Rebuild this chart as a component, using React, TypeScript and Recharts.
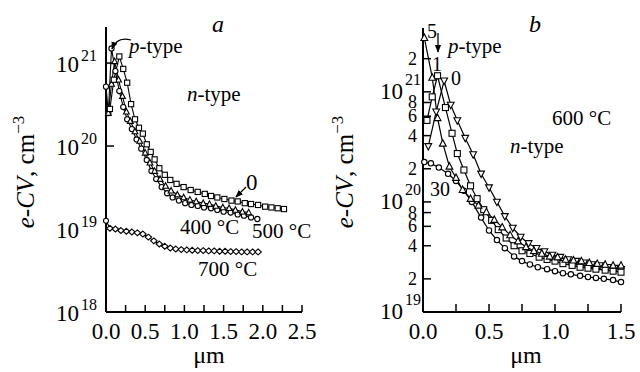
import React from 'react';
import { Line, LineChart, XAxis, YAxis } from 'recharts';

const SERIF = "'Liberation Serif', 'DejaVu Serif', 'Times New Roman', serif";

// ---- panel a: depth (μm) and e-CV concentration (cm^-3)
const aDepth0 = [0.05, 0.1, 0.17, 0.22, 0.27, 0.32, 0.37, 0.42, 0.47, 0.52, 0.57, 0.62, 0.68, 0.75, 0.82, 0.9, 0.99, 1.08, 1.17, 1.26, 1.34, 1.42, 1.51, 1.6, 1.68, 1.77, 1.85, 1.94, 2.03, 2.11, 2.19, 2.27];
const aConc0 = [2.8e20, 6.3e20, 1.2e21, 8.5e20, 5.8e20, 3.2e20, 2.1e20, 1.66e20, 1.41e20, 1.05e20, 8.5e19, 6.9e19, 5.4e19, 4.5e19, 3.9e19, 3.5e19, 3.2e19, 2.95e19, 2.8e19, 2.65e19, 2.5e19, 2.4e19, 2.3e19, 2.2e19, 2.15e19, 2.05e19, 2.0e19, 1.95e19, 1.86e19, 1.82e19, 1.78e19, 1.74e19];

const aDepth400 = [0.03, 0.07, 0.11, 0.16, 0.21, 0.26, 0.31, 0.37, 0.43, 0.5, 0.56, 0.62, 0.69, 0.76, 0.83, 0.91, 0.99, 1.07, 1.15, 1.24, 1.32, 1.4, 1.49, 1.57, 1.65, 1.74, 1.82];
const aConc400 = [2.5e20, 5.6e20, 1.05e21, 6.3e20, 4.0e20, 2.6e20, 2.0e20, 1.5e20, 1.15e20, 8.3e19, 6.3e19, 5.0e19, 4.0e19, 3.3e19, 2.9e19, 2.6e19, 2.4e19, 2.25e19, 2.15e19, 2.05e19, 2.0e19, 1.9e19, 1.82e19, 1.78e19, 1.7e19, 1.62e19, 1.58e19];

const aDepth500 = [0, 0.03, 0.07, 0.12, 0.17, 0.22, 0.27, 0.33, 0.39, 0.45, 0.52, 0.58, 0.64, 0.71, 0.78, 0.85, 0.93, 1.01, 1.09, 1.17, 1.25, 1.34, 1.42, 1.5, 1.59, 1.68, 1.76, 1.85, 1.93];
const aConc500 = [5.2e20, 2.5e20, 1.5e21, 8e20, 4.6e20, 2.95e20, 2.1e20, 1.6e20, 1.2e20, 9.3e19, 6.8e19, 5.0e19, 4.0e19, 3.2e19, 2.7e19, 2.4e19, 2.2e19, 2.05e19, 1.95e19, 1.9e19, 1.82e19, 1.78e19, 1.7e19, 1.62e19, 1.58e19, 1.5e19, 1.45e19, 1.38e19, 1.32e19];

const aDepth700 = [0, 0.05, 0.12, 0.19, 0.26, 0.33, 0.4, 0.47, 0.54, 0.61, 0.68, 0.75, 0.82, 0.89, 0.96, 1.03, 1.1, 1.17, 1.24, 1.31, 1.38, 1.45, 1.52, 1.59, 1.66, 1.73, 1.8, 1.87, 1.94];
const aConc700 = [1.26e19, 1.02e19, 1.0e19, 9.6e18, 9.4e18, 9.2e18, 9.0e18, 8.7e18, 8.0e18, 7.2e18, 6.6e18, 6.2e18, 5.9e18, 5.75e18, 5.65e18, 5.6e18, 5.55e18, 5.5e18, 5.5e18, 5.45e18, 5.45e18, 5.4e18, 5.4e18, 5.35e18, 5.35e18, 5.3e18, 5.3e18, 5.3e18, 5.3e18];

const aXTicks = [0, 0.25, 0.5, 0.75, 1, 1.25, 1.5, 1.75, 2, 2.25, 2.5];
const aYTicks = [1e18, 1e19, 1e20, 1e21];

// ---- panel b: 600 °C, numbers are the curve labels
const bDepth5 = [0.01, 0.07, 0.11, 0.15, 0.2, 0.25, 0.3, 0.36, 0.42, 0.48, 0.54, 0.6, 0.66, 0.72, 0.78, 0.84, 0.9, 0.96, 1.02, 1.08, 1.14, 1.2, 1.26, 1.32, 1.38, 1.44, 1.5];
const bConc5 = [3.1e21, 1.35e21, 5.8e20, 3.4e20, 2.1e20, 1.66e20, 1.29e20, 1.07e20, 9.3e19, 8.1e19, 6.9e19, 5.9e19, 5.0e19, 4.4e19, 3.9e19, 3.6e19, 3.4e19, 3.2e19, 3.15e19, 3.0e19, 2.95e19, 2.9e19, 2.8e19, 2.75e19, 2.7e19, 2.65e19, 2.65e19];

const bDepth1 = [0.03, 0.07, 0.11, 0.17, 0.22, 0.26, 0.31, 0.36, 0.41, 0.46, 0.52, 0.57, 0.63, 0.69, 0.75, 0.81, 0.88, 0.94, 1.0, 1.06, 1.13, 1.19, 1.25, 1.31, 1.38, 1.44, 1.5];
const bConc1 = [5.5e20, 9e20, 1.4e21, 7.2e20, 4.2e20, 2.75e20, 1.95e20, 1.4e20, 1.07e20, 8.5e19, 6.8e19, 5.6e19, 4.7e19, 4.0e19, 3.6e19, 3.4e19, 3.15e19, 3.0e19, 2.9e19, 2.75e19, 2.65e19, 2.55e19, 2.5e19, 2.45e19, 2.4e19, 2.35e19, 2.3e19];

const bDepth0 = [0.04, 0.1, 0.16, 0.21, 0.26, 0.32, 0.38, 0.44, 0.5, 0.56, 0.62, 0.68, 0.74, 0.8, 0.86, 0.92, 0.98, 1.04, 1.1, 1.16, 1.22, 1.28, 1.34, 1.4, 1.46, 1.5];
const bConc0 = [3.2e20, 6.6e20, 1.26e21, 7.6e20, 5.5e20, 3.8e20, 2.7e20, 1.8e20, 1.35e20, 1.0e20, 7.4e19, 5.8e19, 4.8e19, 4.2e19, 3.8e19, 3.55e19, 3.3e19, 3.15e19, 3.0e19, 2.9e19, 2.8e19, 2.7e19, 2.65e19, 2.55e19, 2.5e19, 2.45e19];

const bDepth30 = [0.01, 0.06, 0.12, 0.19, 0.25, 0.31, 0.37, 0.44, 0.5, 0.56, 0.62, 0.69, 0.75, 0.81, 0.87, 0.94, 1.0, 1.06, 1.12, 1.19, 1.25, 1.31, 1.37, 1.44, 1.5];
const bConc30 = [2.3e20, 2.24e20, 2.05e20, 1.8e20, 1.55e20, 1.26e20, 1.0e20, 7.2e19, 5.5e19, 4.5e19, 3.8e19, 3.2e19, 2.9e19, 2.7e19, 2.55e19, 2.45e19, 2.35e19, 2.25e19, 2.2e19, 2.13e19, 2.08e19, 2.04e19, 2.0e19, 1.95e19, 1.87e19];

const bXTicks = [0, 0.25, 0.5, 0.75, 1, 1.25, 1.5];
const bYTicks = [1e19, 2e19, 4e19, 6e19, 8e19, 1e20, 2e20, 4e20, 6e20, 8e20, 1e21, 2e21];

type Pt = { x: number; y: number };
const zip = (xs: number[], ys: number[]): Pt[] => xs.map((x, i) => ({ x, y: ys[i] }));

type Shape = 'square' | 'circle' | 'up' | 'down' | 'diamond';

function Marker({ cx, cy, shape, s }: { cx: number; cy: number; shape: Shape; s: number }) {
  const common = { fill: '#fff', stroke: '#000', strokeWidth: 1.1 };
  const h = s / 2;
  if (shape === 'square') return <rect x={cx - h} y={cy - h} width={s} height={s} {...common} />;
  if (shape === 'circle') return <circle cx={cx} cy={cy} r={h} {...common} />;
  if (shape === 'up')
    return <polygon points={`${cx},${cy - h * 1.1} ${cx - h},${cy + h * 0.8} ${cx + h},${cy + h * 0.8}`} {...common} />;
  if (shape === 'down')
    return <polygon points={`${cx},${cy + h * 1.1} ${cx - h},${cy - h * 0.8} ${cx + h},${cy - h * 0.8}`} {...common} />;
  return <polygon points={`${cx},${cy - h * 0.9} ${cx + h},${cy} ${cx},${cy + h * 0.9} ${cx - h},${cy}`} {...common} />;
}

const dots = (shape: Shape, s: number, firstShape?: Shape) => (p: any) => {
  if (p.cx == null || p.cy == null) return <g key={`e${p.index}`} />;
  const sh = p.index === 0 && firstShape ? firstShape : shape;
  return <Marker key={`m${p.index}`} cx={p.cx} cy={p.cy} shape={sh} s={sh === 'circle' && firstShape ? 5 : s} />;
};

const isHalf = (v: number) => Math.abs(v * 2 - Math.round(v * 2)) < 1e-6;

function XTick(props: any) {
  const { x, y, payload } = props;
  if (!isHalf(payload.value)) return null;
  return (
    <text x={x} y={y} textAnchor="middle" fontFamily={SERIF} fontSize={23} fill="#000">
      {payload.value.toFixed(1)}
    </text>
  );
}

// decade ticks get "10" with a raised exponent, in-between ticks just the mantissa
function DecadeTick(props: any) {
  const { x, y, payload, base, raise } = props;
  const exp = Math.floor(Math.log10(payload.value) + 1e-9);
  const mant = Math.round(payload.value / Math.pow(10, exp));
  if (mant !== 1) {
    return (
      <text x={x - 4} y={y + 6} textAnchor="end" fontFamily={SERIF} fontSize={18} fill="#000">
        {mant}
      </text>
    );
  }
  return (
    <g>
      <text x={x - 18} y={y + base} textAnchor="end" fontFamily={SERIF} fontSize={23} fill="#000">
        10
      </text>
      <text x={x - 16} y={y + base - raise} textAnchor="start" fontFamily={SERIF} fontSize={16} fill="#000">
        {exp}
      </text>
    </g>
  );
}

const axisLine = { stroke: '#000', strokeWidth: 2 };
const tickLine = { stroke: '#000', strokeWidth: 1.5 };

function PanelA() {
  return (
    <LineChart width={320} height={372} margin={{ top: 27, right: 18, bottom: 0, left: 0 }}>
      <XAxis
        type="number"
        dataKey="x"
        domain={[0, 2.5]}
        ticks={aXTicks}
        interval={0}
        height={60}
        tickSize={-7}
        tickMargin={34}
        axisLine={axisLine}
        tickLine={tickLine}
        tick={<XTick />}
      />
      <YAxis
        type="number"
        scale="log"
        domain={[1e18, 2.72e21]}
        ticks={aYTicks}
        interval={0}
        width={106}
        tickSize={-8}
        tickMargin={17}
        axisLine={axisLine}
        tickLine={tickLine}
        tick={<DecadeTick base={9} raise={11} />}
      />
      <Line data={zip(aDepth700, aConc700)} dataKey="y" stroke="#000" strokeWidth={1.1} dot={dots('diamond', 6.5, 'circle')} isAnimationActive={false} />
      <Line data={zip(aDepth500, aConc500)} dataKey="y" stroke="#000" strokeWidth={1.1} dot={dots('circle', 5.2)} isAnimationActive={false} />
      <Line data={zip(aDepth400, aConc400)} dataKey="y" stroke="#000" strokeWidth={1.1} dot={dots('up', 5.8)} isAnimationActive={false} />
      <Line data={zip(aDepth0, aConc0)} dataKey="y" stroke="#000" strokeWidth={1.1} dot={dots('square', 5.2)} isAnimationActive={false} />
    </LineChart>
  );
}

function PanelB() {
  return (
    <LineChart width={320} height={372} margin={{ top: 28, right: 19, bottom: 0, left: 0 }}>
      <XAxis
        type="number"
        dataKey="x"
        domain={[0, 1.5]}
        ticks={bXTicks}
        interval={0}
        height={60}
        tickSize={-8}
        tickMargin={35}
        axisLine={axisLine}
        tickLine={tickLine}
        tick={<XTick />}
      />
      <YAxis
        type="number"
        scale="log"
        domain={[1e19, 3.8e21]}
        ticks={bYTicks}
        interval={0}
        width={103}
        tickSize={-8}
        tickMargin={10}
        axisLine={axisLine}
        tickLine={tickLine}
        tick={<DecadeTick base={7} raise={14} />}
      />
      <Line data={zip(bDepth30, bConc30)} dataKey="y" stroke="#000" strokeWidth={1.2} dot={dots('circle', 5.4)} isAnimationActive={false} />
      <Line data={zip(bDepth0, bConc0)} dataKey="y" stroke="#000" strokeWidth={1.2} dot={dots('down', 6.8)} isAnimationActive={false} />
      <Line data={zip(bDepth1, bConc1)} dataKey="y" stroke="#000" strokeWidth={1.2} dot={dots('square', 6)} isAnimationActive={false} />
      <Line data={zip(bDepth5, bConc5)} dataKey="y" stroke="#000" strokeWidth={1.2} dot={dots('up', 6.8)} isAnimationActive={false} />
    </LineChart>
  );
}

function Annotations() {
  const t = { fontFamily: SERIF, fill: '#000' };
  return (
    <svg width={640} height={372} style={{ position: 'absolute', left: 0, top: 0, pointerEvents: 'none' }}>
      <defs>
        <marker id="head" viewBox="0 0 10 10" refX="9" refY="5" markerWidth="6" markerHeight="6" orient="auto-start-reverse">
          <path d="M0,1 L10,5 L0,9 z" fill="#000" />
        </marker>
      </defs>

      {/* panel a */}
      <text x={218} y={32} textAnchor="middle" fontSize={24} fontStyle="italic" {...t}>a</text>
      <text x={129} y={53} fontSize={21} {...t}><tspan fontStyle="italic">p</tspan>-type</text>
      <path d="M131,40 Q117,36 112,49" fill="none" stroke="#000" strokeWidth={1.3} markerEnd="url(#head)" />
      <text x={187} y={101} fontSize={21} {...t}><tspan fontStyle="italic">n</tspan>-type</text>
      <text x={246} y={190} fontSize={23} {...t}>0</text>
      <line x1={246} y1={187} x2={236} y2={197} stroke="#000" strokeWidth={1.3} markerEnd="url(#head)" />
      <text x={180} y={234} fontSize={21} {...t}>400 °C</text>
      <text x={252} y={238} fontSize={21} {...t}>500 °C</text>
      <text x={198} y={276} fontSize={21} {...t}>700 °C</text>
      <text transform="translate(34,172) rotate(-90)" textAnchor="middle" fontSize={25} {...t}>
        <tspan fontStyle="italic">e-CV</tspan>, cm<tspan dy={-10} fontSize={17}>−3</tspan>
      </text>
      <text x={209} y={363} textAnchor="middle" fontSize={24} {...t}>μm</text>

      {/* panel b */}
      <text x={535} y={32} textAnchor="middle" fontSize={24} fontStyle="italic" {...t}>b</text>
      <text x={432} y={38} textAnchor="middle" fontSize={20} {...t}>5</text>
      <line x1={438} y1={33} x2={438} y2={52} stroke="#000" strokeWidth={1.3} markerEnd="url(#head)" />
      <text x={448} y={53} fontSize={21} {...t}><tspan fontStyle="italic">p</tspan>-type</text>
      <text x={437} y={71} textAnchor="middle" fontSize={20} {...t}>1</text>
      <text x={456} y={85} textAnchor="middle" fontSize={20} {...t}>0</text>
      <text x={552} y={125} fontSize={21} {...t}>600 °C</text>
      <text x={510} y={153} fontSize={21} {...t}><tspan fontStyle="italic">n</tspan>-type</text>
      <text x={430} y={196} fontSize={20} {...t}>30</text>
      <text transform="translate(353,172) rotate(-90)" textAnchor="middle" fontSize={25} {...t}>
        <tspan fontStyle="italic">e-CV</tspan>, cm<tspan dy={-10} fontSize={17}>−3</tspan>
      </text>
      <text x={526} y={363} textAnchor="middle" fontSize={24} {...t}>μm</text>
    </svg>
  );
}

export default function App() {
  return (
    <div style={{ position: 'relative', width: 640, height: 372, background: '#fff', overflow: 'hidden' }}>
      <style>{'body{margin:0}'}</style>
      <div style={{ position: 'absolute', left: 0, top: 0 }}>
        <PanelA />
      </div>
      <div style={{ position: 'absolute', left: 320, top: 0 }}>
        <PanelB />
      </div>
      <Annotations />
    </div>
  );
}
